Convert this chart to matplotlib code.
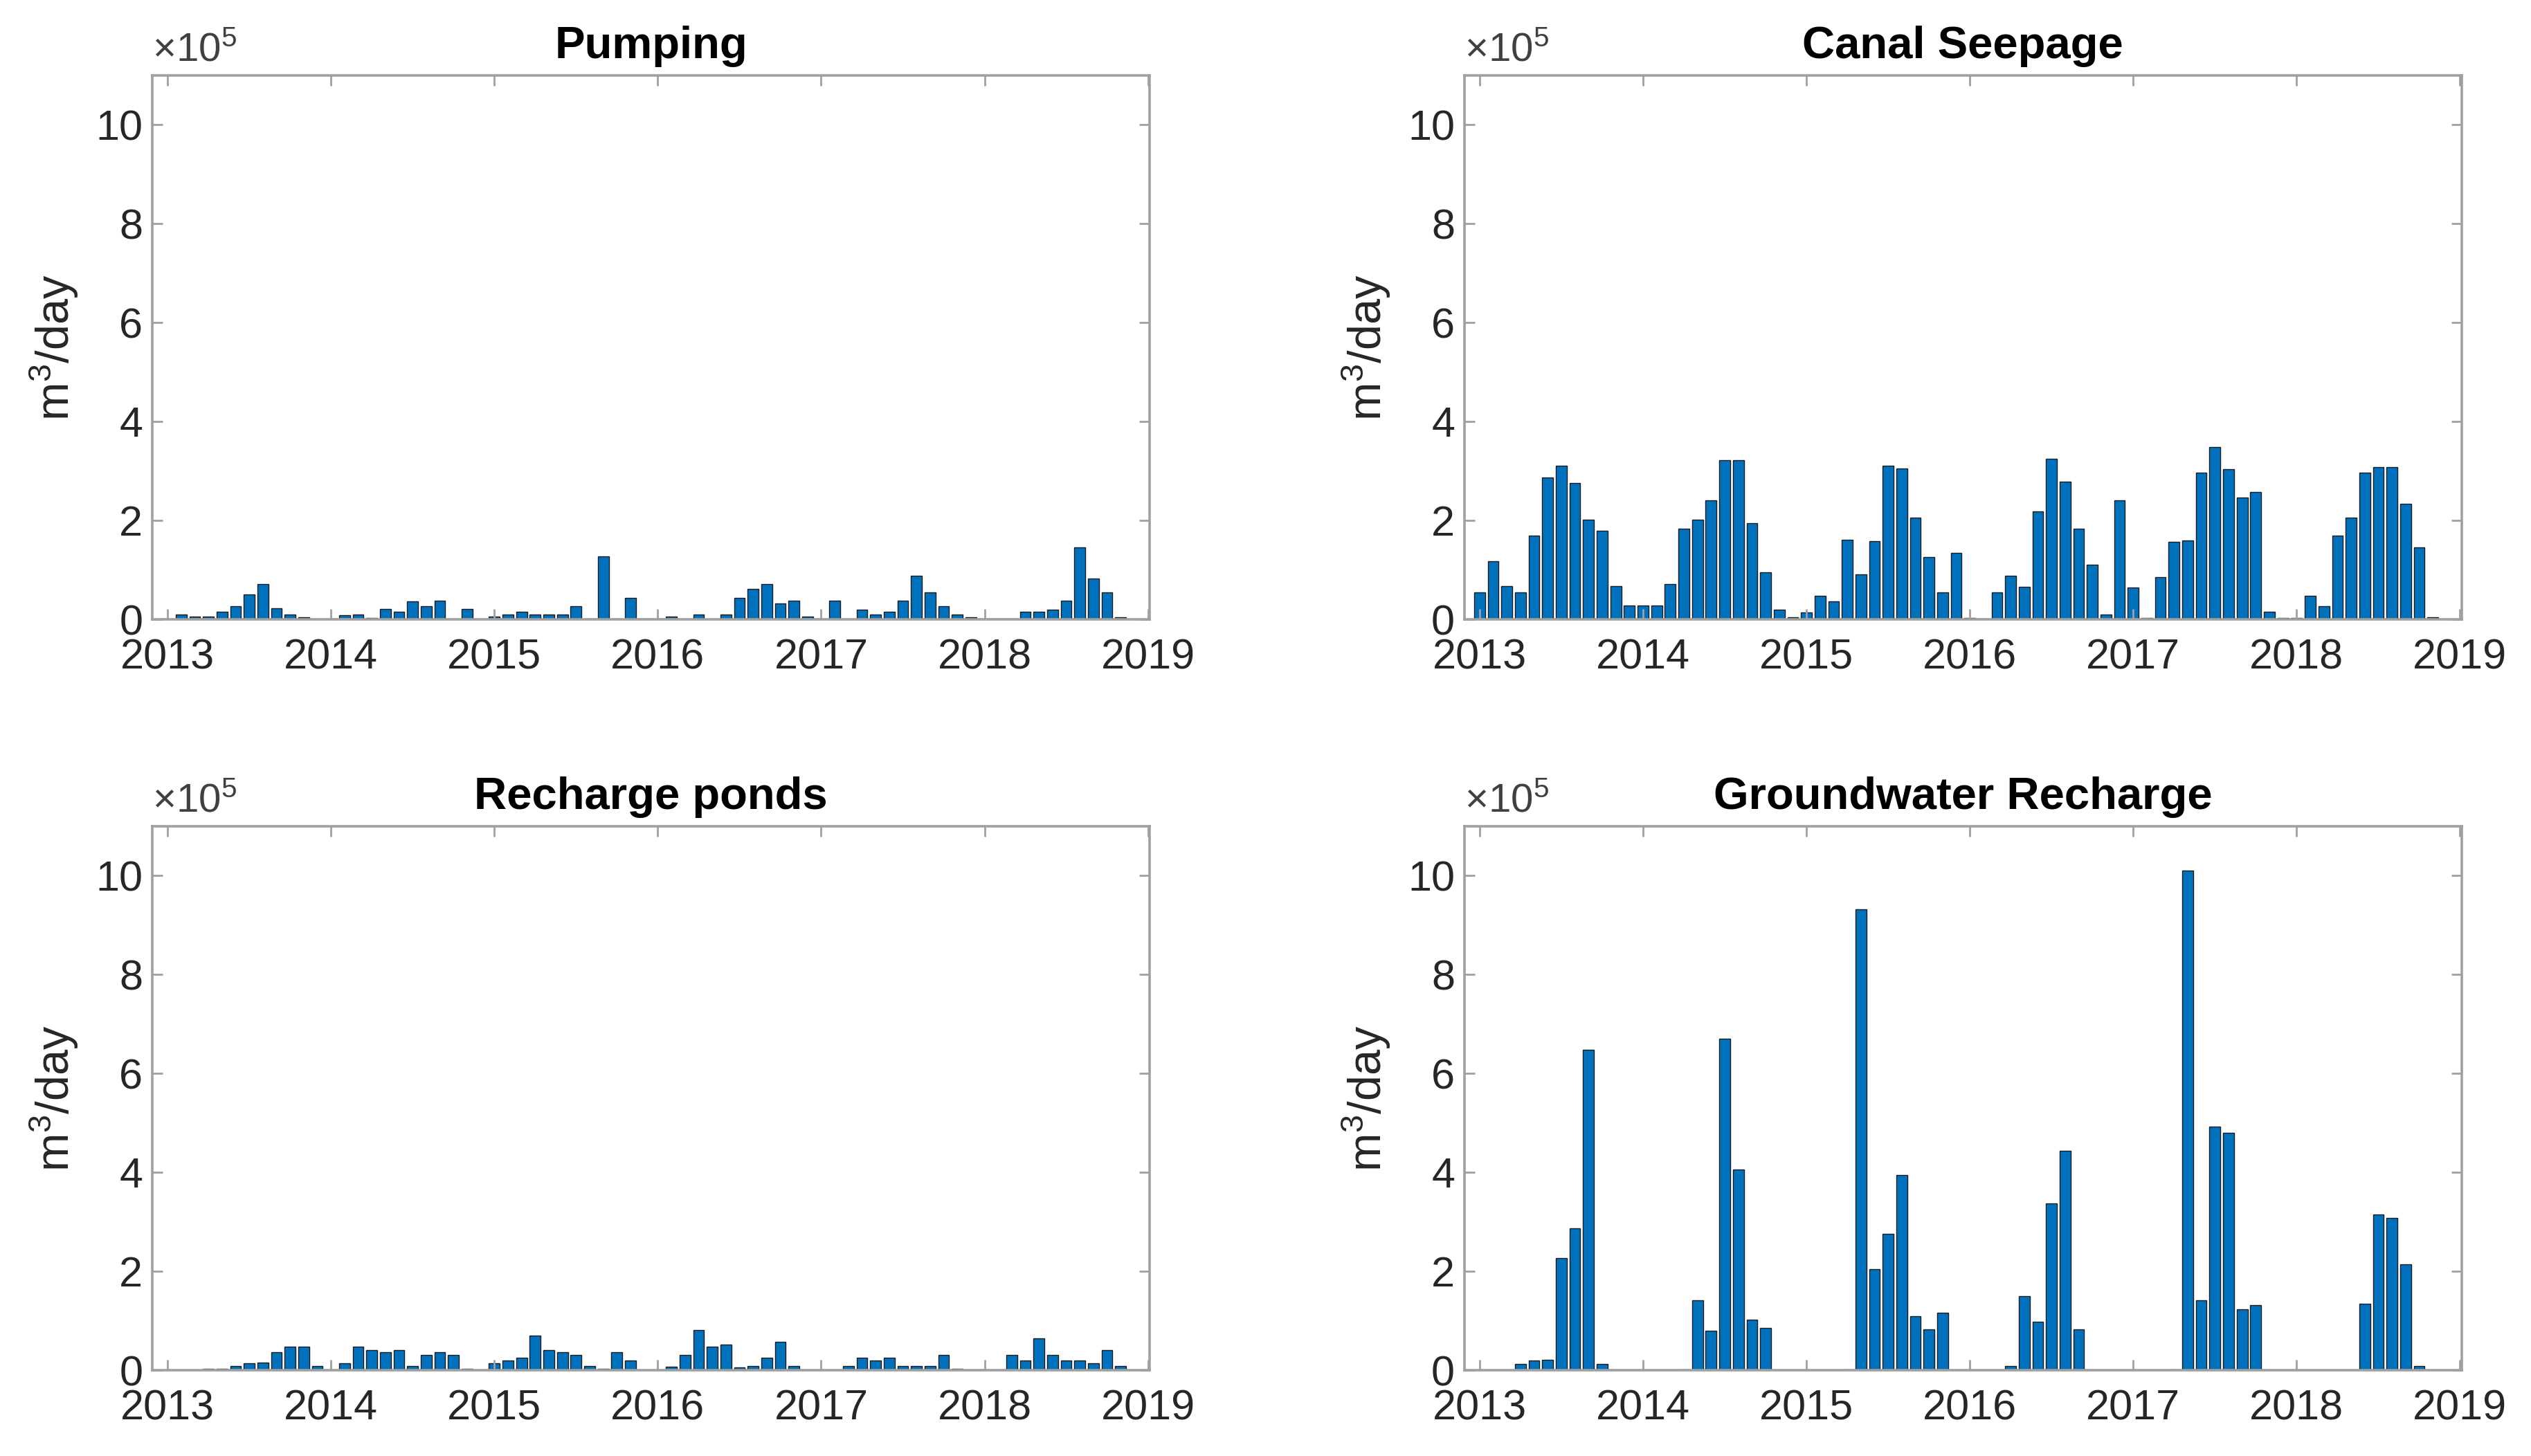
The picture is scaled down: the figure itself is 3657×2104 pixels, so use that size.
import numpy as np
import matplotlib

matplotlib.use("Agg")
import matplotlib.pyplot as plt
from matplotlib.ticker import FuncFormatter

plt.rcParams["font.family"] = ["Liberation Sans", "DejaVu Sans"]
plt.rcParams["mathtext.fontset"] = "custom"
plt.rcParams["mathtext.rm"] = "Liberation Sans"
plt.rcParams["mathtext.it"] = "Liberation Sans"

# monthly values, Jan 2013 .. Dec 2018, in units of 1e5 m3/day
pumping = [
    0.01, 0.10, 0.05, 0.05, 0.155, 0.27, 0.50, 0.72, 0.22, 0.10, 0.04, 0.0,
    0.02, 0.08, 0.10, 0.03, 0.21, 0.15, 0.37, 0.27, 0.38, 0.0, 0.21, 0.0,
    0.05, 0.10, 0.15, 0.10, 0.10, 0.10, 0.27, 0.02, 1.28, 0.02, 0.43, 0.02,
    0.02, 0.06, 0.0, 0.10, 0.0, 0.10, 0.44, 0.61, 0.72, 0.32, 0.38, 0.05,
    0.02, 0.38, 0.0, 0.20, 0.10, 0.15, 0.38, 0.88, 0.55, 0.26, 0.10, 0.04,
    0.02, 0.02, 0.02, 0.15, 0.15, 0.20, 0.38, 1.46, 0.83, 0.55, 0.04, 0.0,
]
canal_seepage = [
    0.54, 1.18, 0.67, 0.55, 1.69, 2.87, 3.10, 2.76, 2.01, 1.79, 0.67, 0.28,
    0.28, 0.28, 0.72, 1.83, 2.01, 2.41, 3.22, 3.22, 1.94, 0.95, 0.20, 0.04,
    0.14, 0.48, 0.36, 1.61, 0.91, 1.58, 3.10, 3.05, 2.05, 1.26, 0.54, 1.35,
    0.03, 0.02, 0.55, 0.88, 0.66, 2.18, 3.25, 2.79, 1.83, 1.11, 0.10, 2.41,
    0.65, 0.03, 0.86, 1.57, 1.60, 2.97, 3.48, 3.03, 2.46, 2.57, 0.16, 0.03,
    0.03, 0.48, 0.27, 1.69, 2.06, 2.97, 3.08, 3.08, 2.34, 1.45, 0.04, 0.0,
]
recharge_ponds = [
    0.0, 0.0, 0.0, 0.03, 0.03, 0.08, 0.14, 0.15, 0.37, 0.47, 0.47, 0.08,
    0.0, 0.14, 0.47, 0.41, 0.37, 0.41, 0.08, 0.31, 0.37, 0.31, 0.03, 0.0,
    0.14, 0.19, 0.25, 0.70, 0.41, 0.37, 0.31, 0.08, 0.03, 0.37, 0.20, 0.0,
    0.0, 0.07, 0.31, 0.81, 0.47, 0.52, 0.05, 0.08, 0.25, 0.58, 0.08, 0.0,
    0.0, 0.0, 0.08, 0.25, 0.19, 0.25, 0.08, 0.08, 0.08, 0.31, 0.03, 0.0,
    0.02, 0.0, 0.31, 0.19, 0.65, 0.31, 0.19, 0.19, 0.14, 0.41, 0.08, 0.0,
]
gw_recharge = [
    0.0, 0.0, 0.0, 0.12, 0.19, 0.21, 2.27, 2.87, 6.47, 0.12, 0.0, 0.0,
    0.0, 0.0, 0.0, 0.02, 1.41, 0.80, 6.70, 4.06, 1.02, 0.86, 0.0, 0.0,
    0.0, 0.0, 0.0, 0.02, 9.32, 2.04, 2.76, 3.94, 1.09, 0.82, 1.16, 0.0,
    0.0, 0.0, 0.0, 0.09, 1.50, 0.98, 3.37, 4.44, 0.82, 0.0, 0.0, 0.0,
    0.0, 0.0, 0.0, 0.02, 10.1, 1.41, 4.92, 4.80, 1.23, 1.32, 0.0, 0.0,
    0.0, 0.0, 0.0, 0.0, 0.0, 1.34, 3.15, 3.08, 2.14, 0.09, 0.0, 0.0,
]

titles = ["Pumping", "Canal Seepage", "Recharge ponds", "Groundwater Recharge"]
series = [pumping, canal_seepage, recharge_ponds, gw_recharge]
years = [2013, 2014, 2015, 2016, 2017, 2018, 2019]
yticks = [0, 2, 4, 6, 8, 10]

months = 2013 + np.arange(72) / 12.0

BAR = "#0072BD"
AX = "#a0a0a0"
TXT = "#262626"

fig = plt.figure(figsize=(18.285, 10.52), dpi=200)

# [left, bottom, width, height] in figure fractions
boxes = [
    [0.0602, 0.5746, 0.3940, 0.3738],
    [0.5786, 0.5746, 0.3940, 0.3738],
    [0.0602, 0.0589, 0.3940, 0.3738],
    [0.5786, 0.0589, 0.3940, 0.3738],
]

for box, title, vals in zip(boxes, titles, series):
    ax = fig.add_axes(box)
    ax.bar(months, np.array(vals) * 1e5, width=0.8 / 12, color=BAR,
           edgecolor="#1a1a1a", linewidth=0.5)
    ax.set_xlim(2012.907, 2019.01)
    ax.set_ylim(0, 11e5)
    ax.set_xticks(years)
    ax.set_xticklabels([str(y) for y in years])
    ax.set_yticks([v * 1e5 for v in yticks])
    ax.yaxis.set_major_formatter(FuncFormatter(lambda v, p: f"{v / 1e5:g}"))
    ax.tick_params(direction="in", top=True, right=True, length=5.5,
                   width=1.0, color=AX, labelsize=22, labelcolor=TXT)
    ax.tick_params(axis="x", pad=10)
    ax.tick_params(axis="y", pad=5)
    for sp in ax.spines.values():
        sp.set_color(AX)
        sp.set_linewidth(1.3)
    ax.set_title(title, fontsize=23.5, fontweight="bold", pad=9)
    ax.set_ylabel(r"m$^3$/day", fontsize=24, color=TXT, labelpad=8)
    ax.text(0.0, 1.012, r"$\times$10$^5$", transform=ax.transAxes,
            fontsize=21, color="#404040", ha="left", va="bottom")

fig.savefig("out.png", dpi=200)
plt.close(fig)
